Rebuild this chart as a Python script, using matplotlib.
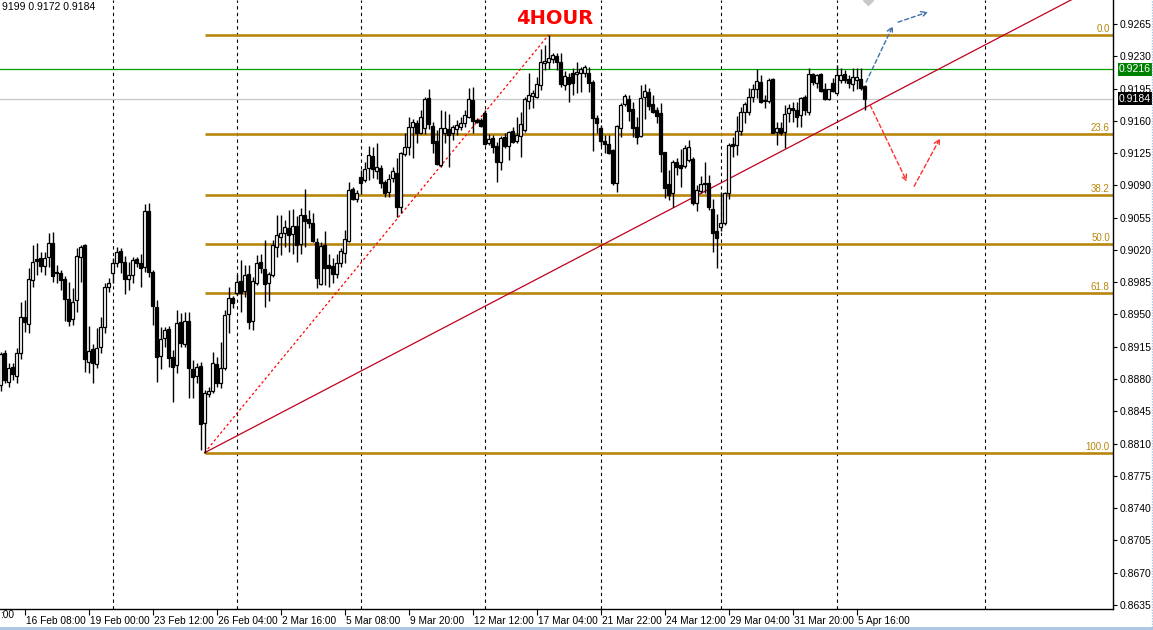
import matplotlib
matplotlib.use("Agg")
import matplotlib.pyplot as plt
import numpy as np
from matplotlib.lines import Line2D
from matplotlib.transforms import ScaledTranslation

plt.rcParams["font.family"] = ["Liberation Sans", "DejaVu Sans"]

# 4H candles, prices in pips (price * 10000)
opens = [
    8874, 8908, 8877, 8893, 8883, 8908, 8947, 8940, 8987, 9010,
    9011, 9003, 9012, 9027, 8996, 8995, 8988, 8967, 8945, 8966,
    9012, 9025, 8898, 8913, 8896, 8915, 8936, 8980, 8995, 9006,
    9019, 9007, 8988, 8993, 9010, 9006, 9001, 9062, 8996, 8958,
    8905, 8924, 8934, 8904, 8895, 8942, 8918, 8943, 8891, 8883,
    8894, 8832, 8864, 8867, 8896, 8876, 8892, 8950, 8968, 8973,
    8986, 8975, 8994, 8943, 8984, 9007, 8999, 8984, 8993, 9023,
    9034, 9038, 9044, 9037, 9046, 9026, 9058, 9053, 9049, 9029,
    8983, 9025, 9004, 9003, 8994, 9006, 9017, 9030, 9086, 9075,
    9099, 9096, 9109, 9122, 9106, 9109, 9094, 9083, 9098, 9103,
    9067, 9124, 9132, 9153, 9158, 9147, 9152, 9185, 9154, 9138,
    9112, 9147, 9151, 9147, 9151, 9153, 9158, 9164, 9183, 9161,
    9161, 9168, 9136, 9141, 9133, 9115, 9142, 9133, 9149, 9138,
    9143, 9150, 9182, 9187, 9186, 9199, 9223, 9224, 9227, 9230,
    9224, 9199, 9208, 9212, 9211, 9212, 9212, 9212, 9202, 9163,
    9152, 9138, 9135, 9128, 9093, 9152, 9178, 9184, 9173, 9153,
    9143, 9186, 9191, 9178, 9172, 9168, 9126, 9091, 9082, 9115,
    9112, 9111, 9118, 9119, 9071, 9084, 9093, 9093, 9064, 9040,
    9045, 9049, 9082, 9135, 9134, 9149, 9170, 9170, 9186, 9194,
    9202, 9183, 9181, 9205, 9148, 9152, 9148, 9168, 9174, 9172,
    9166, 9186, 9170, 9211, 9201, 9211, 9195, 9184, 9201, 9190,
    9204, 9211, 9205, 9200, 9204, 9205, 9198,
]
highs = [
    8909, 8911, 8897, 8897, 8914, 8964, 8966, 9000, 9025, 9027,
    9018, 9018, 9038, 9039, 9004, 8998, 8992, 8985, 8979, 9022,
    9025, 9026, 8937, 8918, 8935, 8947, 8984, 8990, 9011, 9023,
    9022, 9013, 9007, 9012, 9012, 9016, 9070, 9071, 8998, 8966,
    8936, 8936, 8937, 8911, 8955, 8952, 8953, 8953, 8901, 8897,
    8898, 8868, 8871, 8909, 8904, 8920, 8955, 8980, 8970, 8994,
    9009, 9004, 9004, 8991, 9014, 9016, 9031, 8996, 9031, 9058,
    9058, 9052, 9063, 9064, 9057, 9065, 9086, 9063, 9060, 9033,
    9029, 9040, 9016, 9011, 9016, 9022, 9042, 9094, 9088, 9085,
    9107, 9115, 9133, 9132, 9136, 9112, 9096, 9102, 9110, 9120,
    9126, 9147, 9164, 9162, 9161, 9172, 9186, 9195, 9159, 9150,
    9172, 9171, 9167, 9155, 9161, 9164, 9172, 9196, 9197, 9163,
    9163, 9172, 9146, 9145, 9137, 9143, 9147, 9149, 9153, 9164,
    9170, 9186, 9212, 9193, 9207, 9238, 9242, 9253, 9233, 9233,
    9233, 9214, 9212, 9217, 9224, 9218, 9221, 9218, 9204, 9166,
    9155, 9145, 9145, 9129, 9155, 9179, 9189, 9188, 9180, 9164,
    9199, 9200, 9196, 9188, 9175, 9179, 9126, 9107, 9118, 9120,
    9129, 9134, 9139, 9121, 9090, 9100, 9115, 9101, 9075, 9059,
    9083, 9083, 9136, 9142, 9165, 9175, 9180, 9196, 9200, 9216,
    9210, 9188, 9206, 9206, 9159, 9159, 9177, 9178, 9180, 9180,
    9186, 9188, 9217, 9212, 9211, 9212, 9201, 9195, 9206, 9221,
    9217, 9215, 9210, 9217, 9217, 9217, 9199,
]
lows = [
    8867, 8876, 8871, 8879, 8876, 8902, 8931, 8930, 8980, 8993,
    8996, 8993, 9002, 8985, 8984, 8977, 8943, 8937, 8939, 8953,
    8985, 8888, 8887, 8876, 8892, 8908, 8930, 8974, 8984, 9002,
    8995, 8972, 8977, 8984, 9002, 8980, 8996, 8991, 8939, 8877,
    8891, 8915, 8893, 8855, 8887, 8915, 8915, 8859, 8859, 8876,
    8803, 8800, 8860, 8865, 8871, 8870, 8890, 8930, 8957, 8971,
    8953, 8969, 8934, 8933, 8982, 8995, 8958, 8965, 8991, 9012,
    9014, 9023, 9018, 9016, 9007, 9016, 9023, 9044, 9029, 8979,
    8982, 8982, 8980, 8984, 8990, 9002, 9006, 9029, 9074, 9072,
    9081, 9094, 9096, 9098, 9097, 9087, 9077, 9077, 9094, 9056,
    9060, 9122, 9123, 9120, 9136, 9146, 9146, 9151, 9125, 9112,
    9110, 9136, 9110, 9139, 9145, 9150, 9153, 9163, 9147, 9158,
    9153, 9134, 9134, 9125, 9094, 9107, 9131, 9118, 9136, 9136,
    9121, 9148, 9173, 9174, 9185, 9193, 9215, 9216, 9223, 9215,
    9197, 9193, 9180, 9188, 9190, 9191, 9207, 9191, 9127, 9147,
    9133, 9125, 9124, 9090, 9083, 9142, 9176, 9160, 9142, 9135,
    9142, 9162, 9172, 9169, 9158, 9105, 9076, 9074, 9066, 9101,
    9088, 9109, 9115, 9069, 9062, 9082, 9082, 9063, 9018, 9000,
    9040, 9047, 9075, 9121, 9123, 9145, 9158, 9166, 9180, 9185,
    9179, 9174, 9179, 9147, 9134, 9145, 9131, 9159, 9159, 9153,
    9153, 9166, 9166, 9199, 9196, 9191, 9183, 9183, 9191, 9189,
    9201, 9201, 9196, 9192, 9195, 9193, 9172,
]
closes = [
    8907, 8879, 8892, 8885, 8908, 8947, 8942, 8988, 9007, 9008,
    9003, 9011, 9027, 8992, 8995, 8987, 8967, 8943, 8964, 9013,
    9023, 8902, 8910, 8897, 8914, 8936, 8980, 8984, 9006, 9018,
    9007, 8988, 8993, 9009, 9006, 9000, 9062, 8996, 8959, 8904,
    8923, 8933, 8903, 8893, 8941, 8919, 8943, 8892, 8882, 8893,
    8831, 8865, 8867, 8897, 8876, 8892, 8949, 8968, 8962, 8985,
    8973, 8993, 8942, 8986, 9006, 9000, 8983, 8994, 9025, 9036,
    9038, 9045, 9036, 9046, 9025, 9058, 9051, 9049, 9030, 8990,
    9024, 9000, 9000, 8994, 9006, 9019, 9032, 9085, 9075, 9082,
    9093, 9108, 9123, 9108, 9110, 9093, 9082, 9097, 9106, 9067,
    9125, 9132, 9153, 9159, 9147, 9164, 9184, 9157, 9136, 9113,
    9152, 9152, 9145, 9153, 9155, 9158, 9166, 9184, 9160, 9159,
    9154, 9135, 9140, 9132, 9115, 9141, 9133, 9148, 9137, 9145,
    9157, 9184, 9188, 9190, 9200, 9224, 9225, 9228, 9231, 9224,
    9200, 9209, 9200, 9201, 9213, 9216, 9218, 9201, 9163, 9158,
    9138, 9135, 9125, 9093, 9154, 9177, 9187, 9171, 9152, 9142,
    9185, 9192, 9176, 9170, 9165, 9124, 9087, 9080, 9115, 9110,
    9109, 9131, 9132, 9071, 9085, 9091, 9091, 9066, 9038, 9033,
    9049, 9082, 9134, 9133, 9149, 9170, 9178, 9186, 9195, 9203,
    9180, 9181, 9204, 9147, 9152, 9147, 9167, 9174, 9172, 9164,
    9185, 9172, 9211, 9202, 9210, 9192, 9184, 9195, 9192, 9210,
    9210, 9204, 9201, 9207, 9207, 9196, 9184,
]

x_labels = ["16 Feb 08:00", "19 Feb 00:00", "23 Feb 12:00", "26 Feb 04:00",
            "2 Mar 16:00", "5 Mar 08:00", "9 Mar 20:00", "12 Mar 12:00",
            "17 Mar 04:00", "21 Mar 22:00", "24 Mar 12:00", "29 Mar 04:00",
            "31 Mar 20:00", "5 Apr 16:00"]
x_label_idx = [6, 22, 38, 54, 70, 86, 102, 118, 134, 150, 166, 182, 198, 214]
grid_idx = [28, 59, 90, 121, 150, 180, 209, 246]

fib_low = (51, 0.8800)
fib_high = (137, 0.9253)
fib_ratios = [0.0, 23.6, 38.2, 50.0, 61.8, 100.0]
trend_pts = [(51, 0.8800), (216, 0.9174)]
resistance = 0.9216
last_price = 0.9184
blue_arrows = [((216.4, 0.9202), (223.1, 0.9263)), ((224.4, 0.9267), (231.9, 0.9278))]
red_arrows = [((217.4, 0.9177), (226.6, 0.9094)), ((228.4, 0.9089), (234.9, 0.9141))]

o = np.array(opens) / 1e4
h = np.array(highs) / 1e4
l = np.array(lows) / 1e4
c = np.array(closes) / 1e4
idx = np.arange(len(o))

W, H = 1153, 630
fig = plt.figure(figsize=(W / 100, H / 100), dpi=100)
ax = fig.add_axes([0, 21 / H, 1113 / W, 609 / H])
xmax = (1113 - 0.5) / 4
ax.set_xlim(-0.125, xmax)
ax.set_ylim(0.86306, 0.92910)

# grid
for g in grid_idx:
    ax.axvline(g, color="black", lw=0.8, ls=(0, (3, 3)), zorder=1)

# fibonacci
rng = fib_high[1] - fib_low[1]
for r in fib_ratios:
    lvl = fib_high[1] - rng * r / 100
    ax.hlines(lvl, fib_low[0], xmax, color="#B8860B", lw=1.9, zorder=2)
    ax.text(xmax - 0.8, lvl + 0.00012, f"{r:.1f}", ha="right", va="bottom",
            fontsize=7, color="#B8860B", zorder=3)

ax.axhline(resistance, color="#00A000", lw=0.9, zorder=2)
ax.axhline(last_price, color="#C8C8C8", lw=0.9, zorder=2)

# fib connector and trend line
ax.plot([fib_low[0], fib_high[0]], [fib_low[1], fib_high[1]], color="red",
        lw=0.9, ls=(0, (2, 2)), zorder=3)
(x1, y1), (x2, y2) = trend_pts
slope = (y2 - y1) / (x2 - x1)
ax.plot([x1, xmax], [y1, y1 + slope * (xmax - x1)], color="#C00020", lw=0.9, zorder=3)

# candles
ax.vlines(idx, l, h, color="black", lw=1.0, zorder=4)
up = c >= o
ax.bar(idx, np.abs(c - o), bottom=np.minimum(o, c), width=0.55,
       color=np.where(up, "white", "black"), edgecolor="black", lw=0.9, zorder=5)

# arrows
for (s, e) in blue_arrows:
    ax.annotate("", xy=e, xytext=s, zorder=6,
                arrowprops=dict(arrowstyle="->", color="#3F6FA8", lw=1.0,
                                ls=(0, (3, 2)), mutation_scale=10, shrinkA=0, shrinkB=0))
for (s, e) in red_arrows:
    ax.annotate("", xy=e, xytext=s, zorder=6,
                arrowprops=dict(arrowstyle="->", color="#FF3030", lw=1.0,
                                ls=(0, (3, 2)), mutation_scale=10, shrinkA=0, shrinkB=0))
ax.plot(216.9, 0.92905, marker="D", color="#C8C8C8", ms=5, zorder=6, clip_on=True)

ax.text(555 / 1113, 1 - 18 / 609, "4HOUR", transform=ax.transAxes, ha="center",
        va="center", color="red", fontsize=14, fontweight="bold", family="DejaVu Sans")

# axes styling
for s in ["left", "top"]:
    ax.spines[s].set_visible(False)
for s in ["right", "bottom"]:
    ax.spines[s].set_linewidth(1.0)
ax.yaxis.tick_right()
yt = np.arange(8635, 9266, 35) / 1e4
ax.set_yticks(yt)
ax.set_yticklabels([f"{v:.4f}" for v in yt])
ax.tick_params(axis="y", direction="out", length=3, width=0.8, labelsize=7.5, pad=2)
ax.set_xticks(x_label_idx)
ax.set_xticklabels(x_labels)
ax.tick_params(axis="x", direction="out", length=4, width=0.8, labelsize=7.3, pad=1)
off = ScaledTranslation(1.5 / 100, 0, fig.dpi_scale_trans)
for lbl in ax.get_xticklabels():
    lbl.set_ha("left")
    lbl.set_transform(lbl.get_transform() + off)
# tail of the previous date label, cut by the window edge
fig.text(0.5 / W, 19.5 / H, ":00", fontsize=7.3, va="top", ha="left")

# price boxes on the axis
for price, bg in [(resistance, "#008000"), (last_price, "black")]:
    ax.text(1 + 6 / 1113, price, f"{price:.4f}", transform=ax.get_yaxis_transform(),
            ha="left", va="center", fontsize=7.5, color="white", clip_on=False,
            bbox=dict(facecolor=bg, edgecolor="none", pad=1.0), zorder=7)

fig.text(2 / W, 1 - 7 / H, f"{highs[-1] / 1e4:.4f}"[2:] + f" {lows[-1] / 1e4:.4f} {closes[-1] / 1e4:.4f}",
         fontsize=7.5, va="center", ha="left")

# window frame
fig.add_artist(Line2D([1151.5 / W, 1151.5 / W], [0, 1], color="#A8C4E0", lw=1, ls=(0, (1, 1))))
fig.add_artist(Line2D([0, 1], [2 / H, 2 / H], color="#A8C4E0", lw=2))

fig.savefig("out.png", dpi=100)
